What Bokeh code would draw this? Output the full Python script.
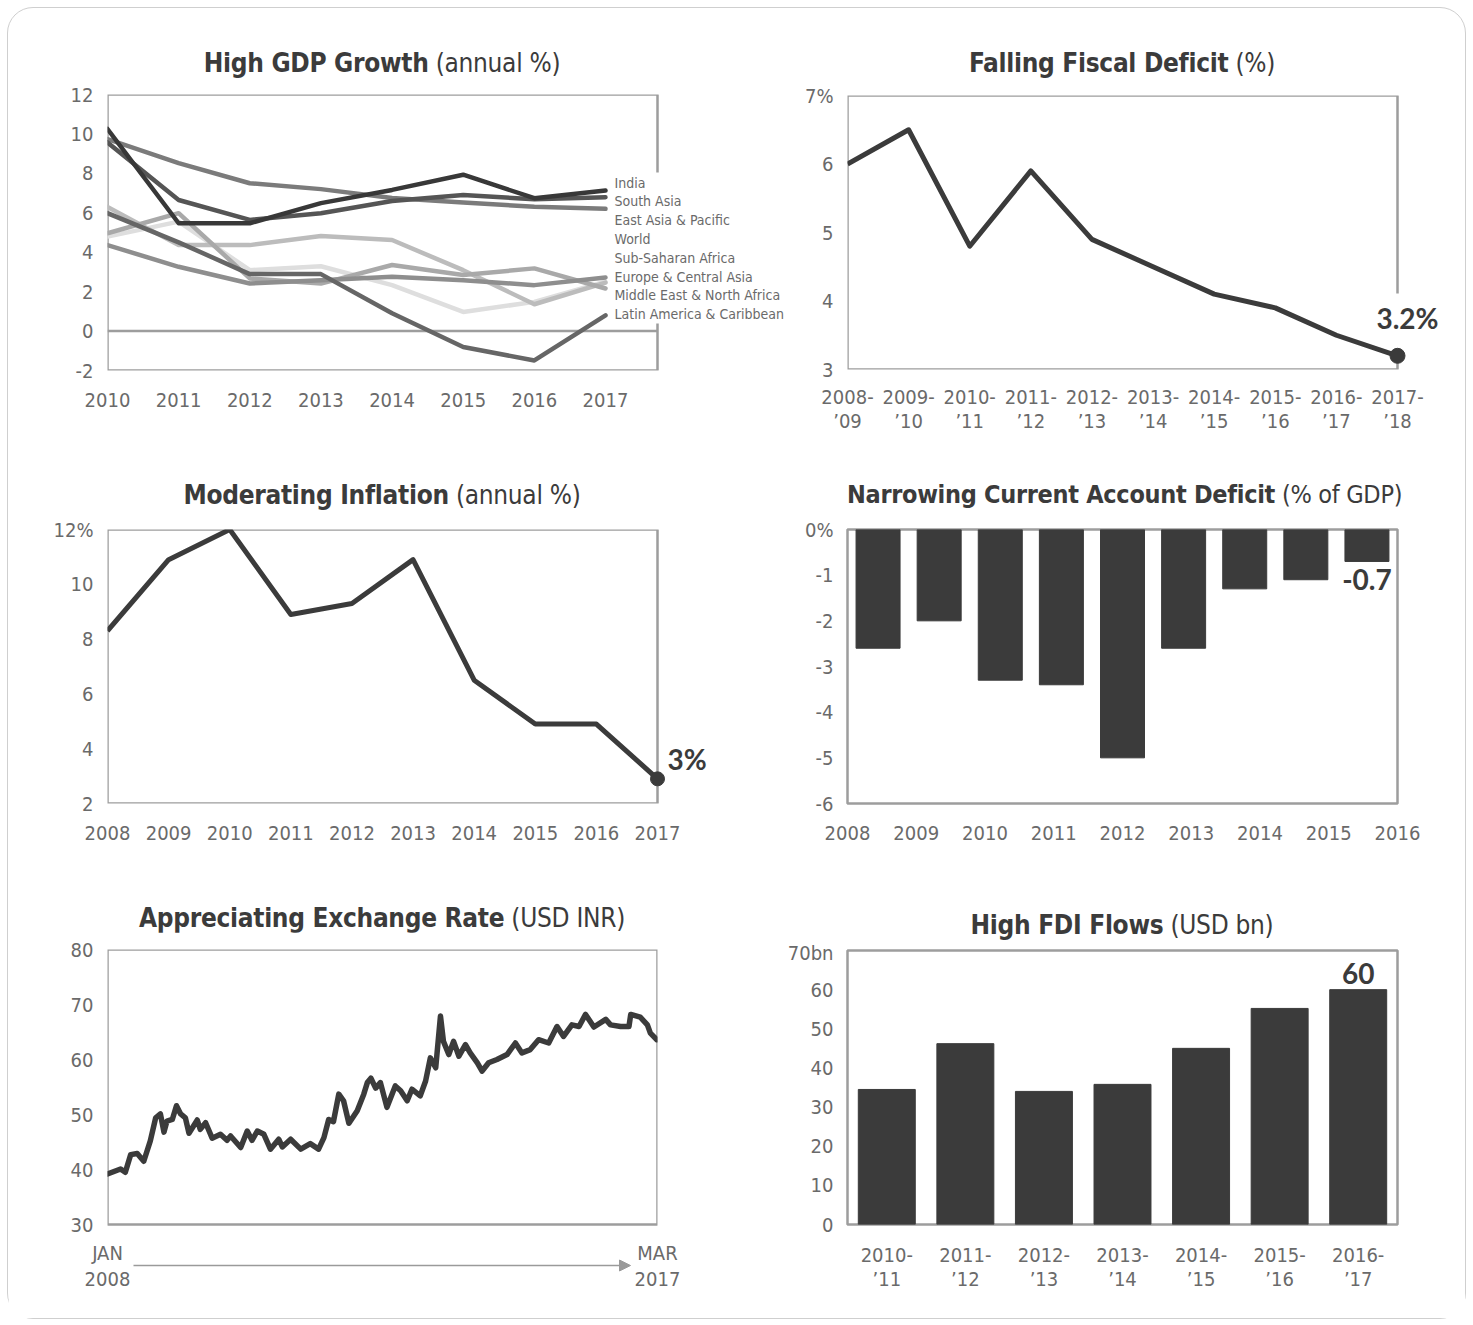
from bokeh.plotting import figure
from bokeh.layouts import column, row
from bokeh.models import FixedTicker, Label, Arrow, NormalHead, Range1d, BoxAnnotation, Div
from bokeh.embed import file_html
from bokeh.resources import INLINE

# ---------------- DATA ----------------
gdp_years = [2010, 2011, 2012, 2013, 2014, 2015, 2016, 2017]
gdp_names = ["India", "South Asia", "East Asia & Pacific", "World", "Sub-Saharan Africa",
             "Europe & Central Asia", "Middle East & North Africa", "Latin America & Caribbean"]
gdp_india = [10.25, 5.47, 5.47, 6.49, 7.16, 7.93, 6.74, 7.13]
gdp_south_asia = [9.57, 6.65, 5.64, 5.98, 6.6, 6.9, 6.69, 6.79]
gdp_east_asia = [9.74, 8.52, 7.5, 7.2, 6.75, 6.52, 6.31, 6.2]
gdp_world = [4.36, 3.26, 2.41, 2.58, 2.75, 2.58, 2.33, 2.72]
gdp_ssa = [6.3, 4.36, 4.36, 4.82, 4.62, 3.09, 1.36, 2.46]
gdp_eca = [4.79, 5.55, 3.09, 3.29, 2.33, 0.97, 1.48, 2.5]
gdp_mena = [4.96, 5.98, 2.67, 2.41, 3.35, 2.84, 3.18, 2.16]
gdp_lac = [5.98, 4.5, 2.89, 2.89, 0.9, -0.81, -1.49, 0.8]
gdp_yticks = [-2, 0, 2, 4, 6, 8, 10, 12]

fiscal_years = ["2008-\n\u201909", "2009-\n\u201910", "2010-\n\u201911", "2011-\n\u201912", "2012-\n\u201913",
                "2013-\n\u201914", "2014-\n\u201915", "2015-\n\u201916", "2016-\n\u201917", "2017-\n\u201918"]
fiscal_deficit = [6.0, 6.5, 4.8, 5.9, 4.9, 4.5, 4.1, 3.9, 3.5, 3.2]
fiscal_yticks = [3, 4, 5, 6, 7]

infl_years = [2008, 2009, 2010, 2011, 2012, 2013, 2014, 2015, 2016, 2017]
inflation = [8.3, 10.9, 12.0, 8.9, 9.3, 10.9, 6.5, 4.9, 4.9, 2.9]
infl_yticks = [2, 4, 6, 8, 10, 12]

ca_years = ["2008", "2009", "2010", "2011", "2012", "2013", "2014", "2015", "2016"]
ca_deficit = [-2.6, -2.0, -3.3, -3.4, -5.0, -2.6, -1.3, -1.1, -0.7]
ca_yticks = [-6, -5, -4, -3, -2, -1, 0]

fx_time = [2008.00, 2008.22, 2008.30, 2008.39, 2008.50, 2008.61, 2008.72, 2008.81, 2008.89, 2008.95,
           2009.00, 2009.09, 2009.16, 2009.23, 2009.31, 2009.37, 2009.51, 2009.56, 2009.65, 2009.76,
           2009.90, 2010.01, 2010.07, 2010.24, 2010.35, 2010.43, 2010.52, 2010.63, 2010.74, 2010.88,
           2010.94, 2011.08, 2011.25, 2011.41, 2011.55, 2011.64, 2011.72, 2011.80, 2011.89, 2011.97,
           2012.06, 2012.20, 2012.31, 2012.37, 2012.43, 2012.51, 2012.59, 2012.70, 2012.84, 2012.93,
           2013.04, 2013.12, 2013.26, 2013.35, 2013.43, 2013.52, 2013.60, 2013.65, 2013.74, 2013.82,
           2013.91, 2014.02, 2014.10, 2014.22, 2014.30, 2014.41, 2014.55, 2014.72, 2014.86, 2014.97,
           2015.11, 2015.25, 2015.42, 2015.56, 2015.67, 2015.81, 2015.93, 2016.04, 2016.18, 2016.38,
           2016.46, 2016.63, 2016.77, 2016.80, 2016.96, 2017.08, 2017.13, 2017.24]
fx_usd_inr = [39.2, 40.1, 39.5, 42.7, 42.9, 41.5, 45.2, 49.4, 50.1, 46.8,
              48.8, 49.1, 51.6, 50.1, 49.4, 46.6, 49.0, 47.3, 48.5, 45.7,
              46.4, 45.3, 46.1, 44.0, 47.0, 45.3, 47.0, 46.4, 43.7, 45.5,
              44.1, 45.5, 43.7, 44.7, 43.7, 45.8, 49.1, 48.7, 53.7, 52.5,
              48.4, 50.7, 53.7, 55.8, 56.6, 54.8, 55.8, 51.3, 55.2, 54.3,
              52.5, 54.6, 53.4, 56.1, 60.3, 58.5, 67.9, 63.3, 60.9, 63.3,
              60.6, 62.7, 61.2, 59.4, 57.9, 59.4, 60.0, 60.9, 63.0, 61.2,
              61.8, 63.6, 63.0, 66.0, 64.2, 66.3, 66.0, 68.2, 65.9, 67.3,
              66.3, 66.0, 66.0, 68.2, 67.7, 66.3, 64.8, 63.6]
fx_start, fx_end = 2008.0, 2017.25
fx_tick_labels = ["JAN\n2008", "MAR\n2017"]
fx_yticks = [30, 40, 50, 60, 70, 80]

fdi_years = ["2010-\n\u201911", "2011-\n\u201912", "2012-\n\u201913", "2013-\n\u201914",
             "2014-\n\u201915", "2015-\n\u201916", "2016-\n\u201917"]
fdi_flows = [34.5, 46.2, 34.0, 35.8, 45.0, 55.2, 60.0]
fdi_yticks = [0, 10, 20, 30, 40, 50, 60, 70]

# ---------------- STYLE ----------------
NARROW = "'DejaVu Sans Condensed', 'Roboto Condensed', 'Liberation Sans Narrow', Roboto, sans-serif"
BOLDNUM = "Lato"
TICK_C = "#6a6a6a"
DARK = "#3b3b3b"
FRAME_C = "#9d9d9d"
TICK_SIZE = "20px"


class Geo:
    """Linear pixel <-> data mapping of one panel (page pixel coordinates)."""
    def __init__(self, fl, ft, fr, fb, xa, xb, ya, yb):
        self.fl, self.ft, self.fr, self.fb = fl, ft, fr, fb
        (self.xpa, self.xva), (self.xpb, self.xvb) = xa, xb
        (self.ypa, self.yva), (self.ypb, self.yvb) = ya, yb

    def x(self, px):
        return self.xva + (px - self.xpa) / (self.xpb - self.xpa) * (self.xvb - self.xva)

    def y(self, py):
        return self.yva + (py - self.ypa) / (self.ypb - self.ypa) * (self.yvb - self.yva)


def make_fig(g, cell_left, cell_right, fig_top, fig_bottom, outline=True, xstand=22, xlh=1.0):
    p = figure(x_range=Range1d(g.x(g.fl), g.x(g.fr)), y_range=Range1d(g.y(g.fb), g.y(g.ft)),
               frame_width=g.fr - g.fl, frame_height=g.fb - g.ft,
               min_border_left=g.fl - cell_left, min_border_top=g.ft - fig_top,
               min_border_right=cell_right - g.fr, min_border_bottom=fig_bottom - g.fb,
               output_backend="svg", toolbar_location=None, tools="")
    p.xgrid.visible = False
    p.ygrid.visible = False
    p.outline_line_color = FRAME_C if outline else None
    p.outline_line_width = 2.5
    p.background_fill_color = "white"
    p.border_fill_color = "white"
    for ax in p.axis:
        ax.axis_line_color = None
        ax.major_tick_line_color = None
        ax.minor_tick_line_color = None
        ax.major_tick_out = 0
        ax.major_tick_in = 0
        ax.major_label_text_font = NARROW
        ax.major_label_text_font_size = TICK_SIZE
        ax.major_label_text_color = TICK_C
    p.yaxis.major_label_standoff = 14
    p.xaxis.major_label_standoff = xstand
    p.xaxis.major_label_text_line_height = xlh
    return p


def box(p, left, right, bottom, top):
    p.add_layout(BoxAnnotation(left=left, right=right, bottom=bottom, top=top, level="underlay",
                               fill_alpha=0, line_color=FRAME_C, line_alpha=1.0, line_width=2.5))


def mask(p, left, right, bottom, top):
    # white patch that interrupts the frame border behind outside labels
    p.add_layout(BoxAnnotation(left=left, right=right, bottom=bottom, top=top, level="underlay",
                               fill_color="white", fill_alpha=1.0, line_alpha=0))


def yticks(p, ticks, top_suffix=""):
    p.yaxis.ticker = FixedTicker(ticks=ticks)
    over = {t: ("%d" % t) for t in ticks}
    over[max(ticks)] = "%d%s" % (max(ticks), top_suffix)
    p.yaxis.major_label_overrides = over


def title_div(bold, regular, width, height, box_left, box_width, center_y, size=26):
    lh = 30
    html = ('<div style="margin-left:%dpx;width:%dpx;text-align:center;white-space:nowrap;'
            'font-family:%s;font-stretch:condensed;font-size:%dpx;line-height:%dpx;color:%s;'
            'letter-spacing:-0.3px;padding-top:%dpx;"><span style="font-weight:bold;">%s</span> '
            '<span style="font-weight:normal;">%s</span></div>'
            % (box_left, box_width, NARROW.replace("'", ""), size, lh, DARK, center_y - lh // 2,
               bold, regular))
    return Div(text=html, width=width, height=height, styles={"margin": "0", "padding": "0"})


def lbl(**kw):
    base = dict(text_font=BOLDNUM, text_font_style="bold", text_font_size="28px", text_color=DARK)
    base.update(kw)
    return Label(**base)


# ================= ROW 1 (page y 8..448) =================
R1_TOP, R1_FIG, R1_BOT = 8, 78, 448

# ---- 1. GDP ----
g1 = Geo(107, 94, 795, 370, (107, 2010), (605, 2017), (370, -2), (94, 12))
p1 = make_fig(g1, 8, 795, R1_FIG, R1_BOT, outline=False)
p1.xaxis.ticker = FixedTicker(ticks=gdp_years)
yticks(p1, gdp_yticks)
gdp_box_right = g1.x(657)
box(p1, gdp_years[0], gdp_box_right, gdp_yticks[0], gdp_yticks[-1])
mask(p1, g1.x(653), g1.x(661), g1.y(323), g1.y(172))
p1.segment(x0=[gdp_years[0]], x1=[gdp_box_right], y0=[0], y1=[0], line_color=FRAME_C, line_width=2.5)
gdp_series = [gdp_india, gdp_south_asia, gdp_east_asia, gdp_world, gdp_ssa, gdp_eca, gdp_mena, gdp_lac]
gdp_colors = ["#383838", "#555555", "#7b7b7b", "#8e8e8e", "#bcbcbc", "#dedede", "#a9a9a9", "#666666"]
for i in [5, 4, 6, 3, 7, 2, 1, 0]:
    p1.line(gdp_years, gdp_series[i], line_color=gdp_colors[i], line_width=4.5,
            line_cap="round", line_join="round")
for i, name in enumerate(gdp_names):
    p1.add_layout(Label(x=gdp_years[-1], y=g1.y(182 + i * 18.8), x_offset=9, text=name,
                        text_align="left", text_baseline="middle", text_font=NARROW,
                        text_font_size="14px", text_color=TICK_C,
                        background_fill_color="white"))
d1 = title_div("High GDP Growth", "(annual %)", 795 - 8, R1_FIG - R1_TOP, 107 - 8, 550, 63 - R1_TOP)

# ---- 2. Fiscal ----
fx_idx = list(range(len(fiscal_years)))
g2 = Geo(847, 95, 1450, 369, (847, 0), (1397, fx_idx[-1]), (369, 3), (95, 7))
p2 = make_fig(g2, 795, 1465, R1_FIG, R1_BOT, outline=False, xstand=15)
p2.xaxis.ticker = FixedTicker(ticks=fx_idx)
p2.xaxis.major_label_overrides = {i: s for i, s in enumerate(fiscal_years)}
yticks(p2, fiscal_yticks, "%")
box(p2, fx_idx[0], fx_idx[-1], fiscal_yticks[0], fiscal_yticks[-1])
mask(p2, g2.x(1393), g2.x(1401), g2.y(348), g2.y(293))
p2.line(fx_idx, fiscal_deficit, line_color=DARK, line_width=5, line_join="round")
p2.scatter([fx_idx[-1]], [fiscal_deficit[-1]], size=15, color=DARK)
p2.add_layout(lbl(x=fx_idx[-1], y=fiscal_deficit[-1], x_offset=10, y_offset=21,
                  text="%.1f%%" % fiscal_deficit[-1], text_align="center", text_baseline="bottom"))
d2 = title_div("Falling Fiscal Deficit", "(%)", 1465 - 795, R1_FIG - R1_TOP, 847 - 795, 550, 63 - R1_TOP)

# ================= ROW 2 (page y 448..880) =================
R2_TOP, R2_FIG, R2_BOT = 448, 510, 880

# ---- 3. Inflation ----
g3 = Geo(107, 529, 720, 803, (107, 2008), (657, 2017), (803, 2), (529, 12))
p3 = make_fig(g3, 8, 720, R2_FIG, R2_BOT, outline=False)
p3.xaxis.ticker = FixedTicker(ticks=infl_years)
yticks(p3, infl_yticks, "%")
box(p3, infl_years[0], infl_years[-1], infl_yticks[0], infl_yticks[-1])
p3.line(infl_years, inflation, line_color=DARK, line_width=5, line_join="round")
p3.scatter([infl_years[-1]], [inflation[-1]], size=14, color=DARK)
p3.add_layout(lbl(x=infl_years[-1], y=inflation[-1], x_offset=10, y_offset=3,
                  text="%d%%" % round(inflation[-1]), text_align="left", text_baseline="bottom"))
d3 = title_div("Moderating Inflation", "(annual %)", 720 - 8, R2_FIG - R2_TOP, 107 - 8, 550, 495 - R2_TOP)

# ---- 4. Current account ----
g4 = Geo(847, 529, 1397, 803, (847, 0), (1397, len(ca_deficit)), (803, -6), (529, 0))
p4 = make_fig(g4, 720, 1465, R2_FIG, R2_BOT)
ca_centers = [i + 0.5 for i in range(len(ca_deficit))]
p4.vbar(x=ca_centers, top=0, bottom=ca_deficit, width=0.72, color=DARK)
ca_tick_pos = [k * len(ca_deficit) / (len(ca_years) - 1) for k in range(len(ca_years))]
p4.xaxis.ticker = FixedTicker(ticks=ca_tick_pos)
p4.xaxis.major_label_overrides = {t: s for t, s in zip(ca_tick_pos, ca_years)}
yticks(p4, ca_yticks, "%")
p4.add_layout(lbl(x=ca_centers[-1], y=ca_deficit[-1], y_offset=-8,
                  text="%.1f" % ca_deficit[-1], text_align="center", text_baseline="top"))
d4 = title_div("Narrowing Current Account Deficit", "(% of GDP)", 1465 - 720, R2_FIG - R2_TOP,
               847 - 720, 550, 495 - R2_TOP, size=25)

# ================= ROW 3 (page y 880..1318) =================
R3_TOP, R3_BOT = 880, 1318
R3_FIG_L, R3_FIG_R = 932, 940

# ---- 5. Exchange rate ----
g5 = Geo(107, 949, 657, 1272, (107, fx_start), (657, fx_end), (1224, 30), (949, 80))
p5 = make_fig(g5, 8, 737, R3_FIG_L, R3_BOT, outline=False, xstand=-32, xlh=1.1)
p5.xaxis.ticker = FixedTicker(ticks=[fx_start, fx_end])
p5.xaxis.major_label_overrides = {fx_start: fx_tick_labels[0], fx_end: fx_tick_labels[1]}
yticks(p5, fx_yticks)
box(p5, fx_start, fx_end, fx_yticks[0], fx_yticks[-1])
p5.line(fx_time, fx_usd_inr, line_color=DARK, line_width=5.5, line_join="round", line_cap="round")
p5.add_layout(Arrow(end=NormalHead(size=11, fill_color="#9a9a9a", line_color="#9a9a9a"),
                    x_start=g5.x(133), y_start=g5.y(1265), x_end=g5.x(630), y_end=g5.y(1265),
                    line_color="#9a9a9a", line_width=1.5))
d5 = title_div("Appreciating Exchange Rate", "(USD INR)", 737 - 8, R3_FIG_L - R3_TOP, 107 - 8, 550,
               918 - R3_TOP)

# ---- 6. FDI ----
g6 = Geo(847, 950, 1397, 1224, (847, 0), (1397, len(fdi_flows)), (1224, 0), (950, 70))
p6 = make_fig(g6, 737, 1465, R3_FIG_R, R3_BOT, xstand=18)
fdi_centers = [i + 0.5 for i in range(len(fdi_flows))]
p6.vbar(x=fdi_centers, top=fdi_flows, bottom=0, width=0.725, color=DARK)
p6.xaxis.ticker = FixedTicker(ticks=fdi_centers)
p6.xaxis.major_label_overrides = {t: s for t, s in zip(fdi_centers, fdi_years)}
yticks(p6, fdi_yticks, "bn")
p6.add_layout(lbl(x=fdi_centers[-1], y=fdi_flows[-1], y_offset=6,
                  text="%d" % round(fdi_flows[-1]), text_align="center", text_baseline="bottom"))
d6 = title_div("High FDI Flows", "(USD bn)", 1465 - 737, R3_FIG_R - R3_TOP, 847 - 737, 550, 925 - R3_TOP)

layout = column(
    row(column(d1, p1), column(d2, p2)),
    row(column(d3, p3), column(d4, p4)),
    row(column(d5, p5), column(d6, p6)),
    styles={"border": "1.5px solid #cfcfcf", "border-radius": "26px", "background": "white",
            "margin": "7px 0 0 7px"})

open("out.html", "w").write(file_html(layout, INLINE))
